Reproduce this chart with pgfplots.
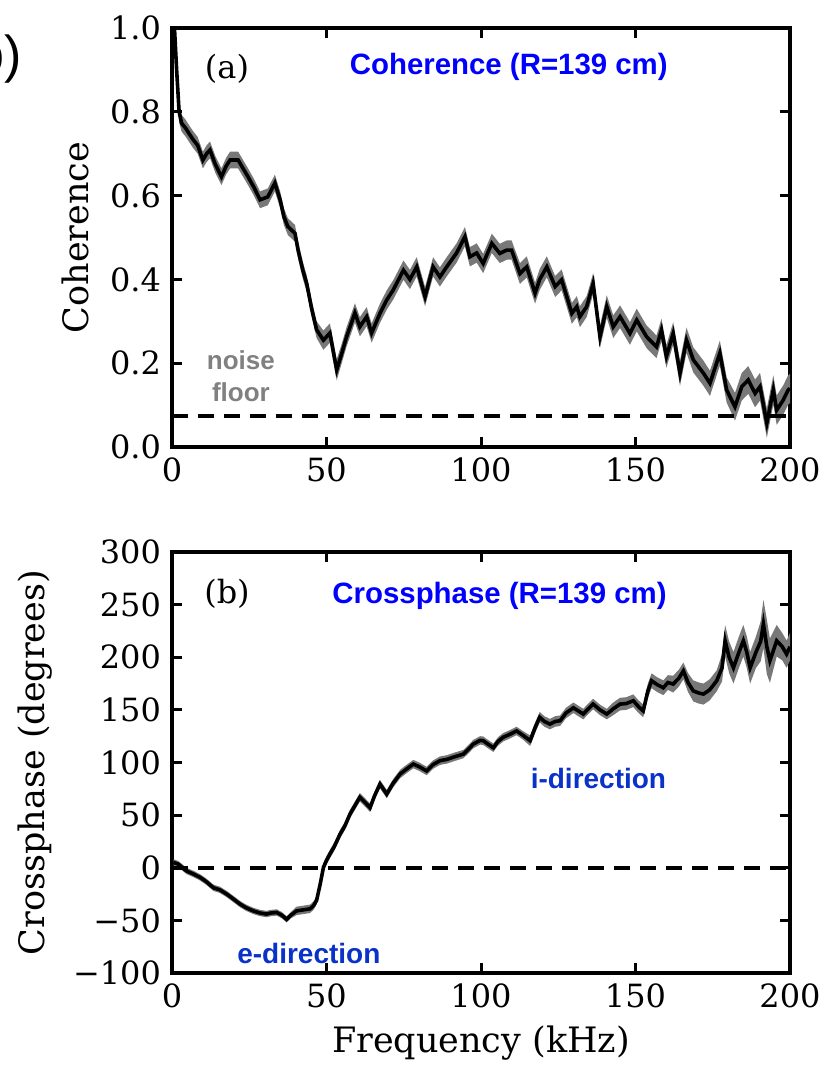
\documentclass[border=0pt]{standalone}
\usepackage{pgfplots}
\pgfplotsset{compat=1.18}
\usepackage{pgfplotstable}
\usepgfplotslibrary{fillbetween}
\usepackage{fontspec}
\setmainfont{DejaVu Serif}
\newfontfamily\lib{Liberation Sans}

\definecolor{ttlblue}{RGB}{0,0,255}
\definecolor{dirblue}{RGB}{10,50,200}
\definecolor{bandgray}{RGB}{120,120,120}
\definecolor{noisegray}{RGB}{128,128,128}

% coherence: f (kHz), value, half width of band
\pgfplotstableread{
f c e
0.8 1.00 0.035
1.5 0.90 0.035
2.3 0.80 0.025
3.1 0.773 0.02
4.5 0.76 0.02
5.8 0.745 0.02
6.9 0.733 0.02
8.3 0.72 0.02
10.0 0.685 0.02
11.2 0.70 0.02
12.3 0.709 0.02
14.0 0.675 0.02
16.0 0.645 0.02
17.5 0.67 0.02
18.8 0.685 0.02
21.4 0.685 0.02
23.0 0.665 0.02
24.6 0.645 0.02
26.5 0.62 0.02
28.5 0.59 0.02
31.0 0.597 0.02
33.3 0.63 0.02
35.0 0.59 0.02
36.2 0.55 0.02
37.5 0.526 0.02
39.8 0.51 0.02
40.8 0.47 0.02
42.4 0.42 0.02
43.6 0.39 0.02
45.2 0.33 0.02
46.8 0.28 0.02
49.0 0.255 0.023
51.1 0.272 0.023
53.3 0.184 0.025
55.0 0.225 0.023
56.5 0.263 0.023
59.2 0.32 0.023
60.8 0.287 0.023
63.0 0.311 0.023
64.6 0.272 0.023
67.3 0.319 0.023
69.5 0.351 0.023
71.6 0.375 0.023
74.9 0.422 0.023
77.0 0.40 0.023
79.2 0.43 0.023
81.9 0.359 0.023
84.5 0.43 0.023
86.7 0.406 0.023
88.9 0.43 0.023
92.1 0.463 0.023
94.8 0.502 0.023
96.4 0.454 0.023
98.6 0.463 0.023
100.7 0.438 0.023
103.5 0.486 0.023
106.1 0.462 0.023
108.3 0.47 0.023
109.9 0.47 0.023
112.6 0.414 0.025
114.8 0.43 0.025
117.5 0.367 0.025
119.0 0.40 0.025
121.3 0.43 0.025
124.0 0.383 0.025
126.1 0.399 0.025
129.4 0.319 0.025
131.0 0.335 0.025
132.0 0.311 0.025
134.2 0.335 0.025
136.3 0.39 0.025
138.5 0.263 0.027
140.7 0.335 0.027
142.8 0.287 0.027
145.0 0.311 0.027
148.2 0.271 0.027
150.4 0.303 0.027
153.6 0.263 0.027
156.8 0.239 0.027
158.4 0.279 0.027
160.0 0.216 0.027
162.2 0.271 0.027
164.4 0.176 0.03
166.5 0.255 0.03
168.7 0.208 0.03
172.0 0.176 0.03
174.1 0.152 0.03
177.3 0.224 0.03
179.5 0.136 0.03
182.2 0.096 0.033
184.4 0.144 0.033
186.5 0.16 0.033
188.7 0.128 0.033
190.3 0.144 0.033
192.5 0.057 0.035
194.6 0.136 0.035
195.7 0.088 0.035
197.8 0.112 0.035
199.4 0.136 0.035
200.0 0.14 0.035
}\coh

% crossphase: f (kHz), degrees, half width of band
\pgfplotstableread{
f p e
0.5 5 3
2 3.5 3
4.7 -3 3
7 -6 3
9 -9 3
11 -13 3
13.4 -19 3
15.5 -21 3
17.7 -25 3
20 -30 3
22 -34.5 3
24 -38 3
26.3 -41 3
28.5 -43 3
30.6 -44 3
32 -43 3
33.9 -42.5 3
35.5 -45 3
37.1 -49 3
38.5 -45 3
40.3 -41 4
42.5 -40 4
44.7 -39 4
45.8 -36 4
46.8 -31 4
48 -15 4
49 0.3 4
50 7 4
51.1 13 4
52.5 20 4
54.4 32 4
56 40 4
57.6 51 4
59 58 4
60.8 67 4
62.5 62 4
64.1 57 4
65.5 68 4
67.3 79.5 4
69.5 70 4
71.5 80 4
73.8 89 4
76 94 4
78.1 98.5 4
80 96 4
82.4 92 4
84.5 98 4
86.7 101.7 4
89 103 4
91 105 4
94.3 108 4
96.4 114 4
97.5 117.5 4
99.7 121 4
100.7 120.7 4
102.5 117 4
104 114 4
105.5 120 4
107.2 124 4
109.5 127 4
111.5 130 4
113.5 126 4
115.9 120.7 5
117.5 133 5
119 143 5
120.5 139 5
122.3 136.5 5
124 139 5
125.6 139.7 5
127.5 147 5
129.9 152 5
131.5 149 5
133.1 146 5
134.7 151 5
136.3 155.5 5
138.5 150 5
140.7 146 5
142.8 151 6
145 155.5 6
147 156 6
149.3 158.7 6
151 153 6
152.5 149 6
154 168 7
155.2 177.7 7
157 174 7
159 171 7
160.5 176 7
162.2 174.5 8
164 180 8
165.5 187 8
167 176 9
168.7 168 10
170.5 166 10
172 165 10
174 169 10
176.3 177.7 10
178 190 13
179 215.7 15
180.3 200 15
181.7 190 15
183.5 205 15
184.9 215.7 15
186 205 15
187.1 190 15
189 205 15
190.5 215 19
191.4 231.6 23
192.5 210 26
193.5 196.7 21
195.7 215.7 15
197.5 210 13
198.9 203 13
200 210 13
}\phase

\pgfplotsset{panel/.style={
  scale only axis, width=309pt,
  xmin=0, xmax=200,
  xtick={0,50,100,150,200}, xticklabels={0,50,100,150,200},
  tick align=inside,
  axis line style={line width=2pt},
  major tick length=5pt,
  every tick/.style={black, line width=1.5pt},
  tick label style={font=\fontsize{16}{19}\selectfont},
  label style={font=\fontsize{17.5}{21}\selectfont},
  xticklabel style={yshift=-2pt},
  yticklabel style={xshift=-2pt},
}}

\begin{document}
\begin{tikzpicture}
% panel (a)
\begin{axis}[panel, height=209.5pt,
  at={(0pt,0pt)}, anchor=south west,
  ymin=0, ymax=1,
  ytick={0,0.2,0.4,0.6,0.8,1.0},
  yticklabels={0.0,0.2,0.4,0.6,0.8,1.0},
  ylabel={Coherence},
  ylabel style={at={(axis description cs:-0.157,0.5)}, anchor=center, rotate=0},
]
\addplot[name path=cu, draw=none] table[x=f, y expr=\thisrow{c}+\thisrow{e}] {\coh};
\addplot[name path=cl, draw=none] table[x=f, y expr=\thisrow{c}-\thisrow{e}] {\coh};
\addplot[bandgray] fill between[of=cu and cl];
\addplot[black, line width=1.8pt] table[x=f, y=c] {\coh};
\addplot[black, line width=2pt, dash pattern=on 8pt off 5pt] coordinates {(0,0.075) (200,0.075)};
\node[font=\fontsize{16}{19}\selectfont] at (axis cs:17.8,0.902) {(a)};
\node[font=\lib\bfseries\fontsize{14.7}{17}\selectfont, text=ttlblue] at (axis cs:109,0.907) {Coherence (R=139 cm)};
\node[font=\lib\bfseries\fontsize{13}{16}\selectfont, text=noisegray, align=center] at (axis cs:22.3,0.169) {noise\\floor};
\end{axis}

% panel (b)
\begin{axis}[panel, height=210.5pt,
  at={(0pt,-52.5pt)}, anchor=north west,
  ymin=-100, ymax=300,
  ytick={-100,-50,0,50,100,150,200,250,300},
  yticklabels={−100,−50,0,50,100,150,200,250,300},
  xlabel={Frequency (kHz)},
  xlabel style={yshift=-2pt},
  ylabel={Crossphase (degrees)},
  ylabel style={at={(axis description cs:-0.2217,0.5)}, anchor=center, rotate=0},
]
\addplot[name path=pu, draw=none] table[x=f, y expr=\thisrow{p}+\thisrow{e}] {\phase};
\addplot[name path=pl, draw=none] table[x=f, y expr=\thisrow{p}-\thisrow{e}] {\phase};
\addplot[bandgray] fill between[of=pu and pl];
\addplot[black, line width=1.8pt] table[x=f, y=p] {\phase};
\addplot[black, line width=2pt, dash pattern=on 8pt off 5pt] coordinates {(0,0) (200,0)};
\node[font=\fontsize{16}{19}\selectfont] at (axis cs:17.8,260) {(b)};
\node[font=\lib\bfseries\fontsize{14.7}{17}\selectfont, text=ttlblue] at (axis cs:106,258) {Crossphase (R=139 cm)};
\node[font=\lib\bfseries\fontsize{14}{17}\selectfont, text=dirblue] at (axis cs:44.3,-81.7) {e-direction};
\node[font=\lib\bfseries\fontsize{14}{17}\selectfont, text=dirblue] at (axis cs:138,84.5) {i-direction};
\end{axis}

\node[font=\lib\fontsize{26}{30}\selectfont, anchor=east] at (-71.5pt,194pt) {(b)};
\pgfresetboundingbox
\path[use as bounding box] (-86pt,-313pt) rectangle (327.5pt,223.5pt);
\end{tikzpicture}
\end{document}
